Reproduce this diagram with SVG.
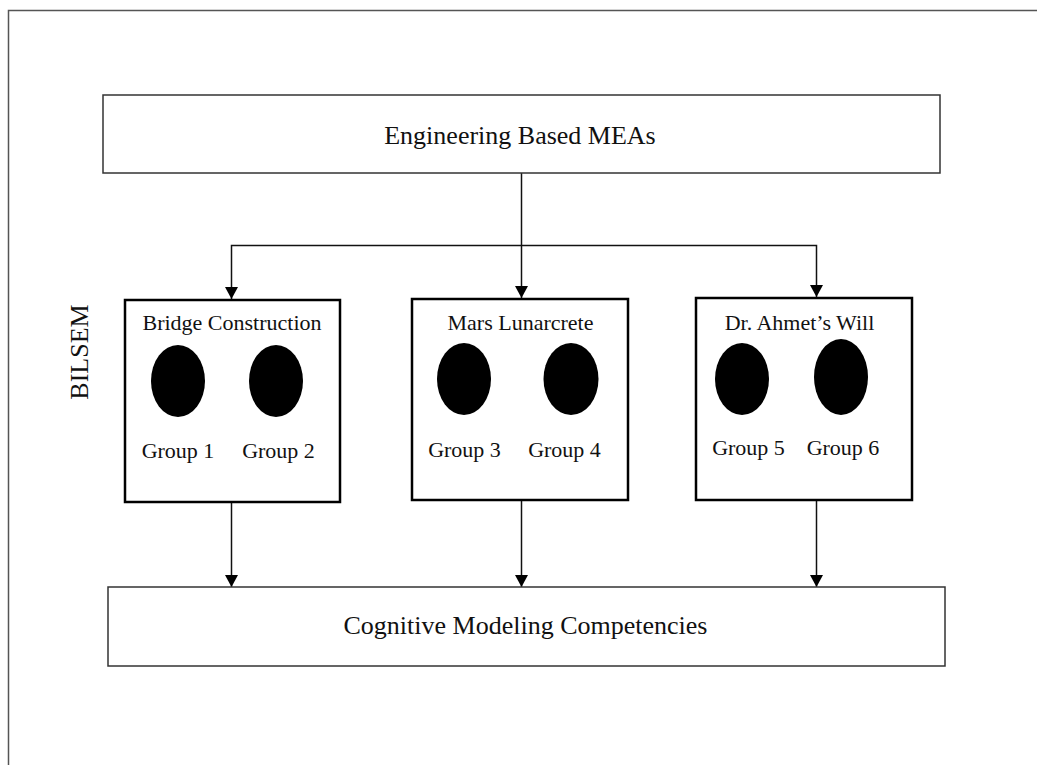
<svg xmlns="http://www.w3.org/2000/svg" width="1037" height="765" viewBox="0 0 1037 765">
  <style>
    .lbl { font-family: "Liberation Serif", "Times New Roman", serif; fill: #111; text-anchor: middle; }
    .big { font-size: 26px; }
    .sm { font-size: 22px; }
    .wide { fill: #fff; stroke: #333; stroke-width: 1.5; }
    .task { fill: #fff; stroke: #000; stroke-width: 2.5; }
    .team { fill: #000; }
    .wire { fill: none; stroke: #111; stroke-width: 1.5; }
  </style>
  <defs>
    <!-- filled triangular head pointing along the path direction -->
    <marker id="arrow" viewBox="0 0 12 13" refX="12" refY="6.5" markerWidth="12" markerHeight="13" markerUnits="userSpaceOnUse" orient="auto">
      <path d="M0,0 L12,6.5 L0,13 Z" fill="#000"/>
    </marker>
  </defs>

  <rect width="1037" height="765" fill="#fff"/>
  <!-- page frame -->
  <path d="M8.5,765 L8.5,10.5 L1037,10.5" fill="none" stroke="#555" stroke-width="1.5"/>

  <!-- side label -->
  <text class="lbl big" transform="translate(88,352) rotate(-90)" x="0" y="0">BILSEM</text>

  <g id="connectors">
    <path class="wire" d="M521.5,173 L521.5,298" marker-end="url(#arrow)"/>
    <path class="wire" d="M521.5,245.5 L231.5,245.5 L231.5,299" marker-end="url(#arrow)"/>
    <path class="wire" d="M521.5,245.5 L816.5,245.5 L816.5,297" marker-end="url(#arrow)"/>
    <path class="wire" d="M231.5,502 L231.5,587" marker-end="url(#arrow)"/>
    <path class="wire" d="M521.5,501 L521.5,587" marker-end="url(#arrow)"/>
    <path class="wire" d="M816.5,501 L816.5,587" marker-end="url(#arrow)"/>
  </g>

  <g id="meas">
    <rect class="wide" x="103" y="95" width="837" height="78"/>
    <text class="lbl big" x="520" y="144">Engineering Based MEAs</text>
  </g>

  <g id="bridge">
    <rect class="task" x="125" y="300" width="215" height="202"/>
    <text class="lbl sm" x="232" y="330">Bridge Construction</text>
    <ellipse class="team" cx="178" cy="381" rx="27" ry="36"/>
    <ellipse class="team" cx="276" cy="381" rx="27" ry="36"/>
    <text class="lbl sm" x="178" y="458">Group 1</text>
    <text class="lbl sm" x="278.5" y="458">Group 2</text>
  </g>

  <g id="mars">
    <rect class="task" x="412" y="299" width="216" height="201"/>
    <text class="lbl sm" x="520.5" y="330">Mars Lunarcrete</text>
    <ellipse class="team" cx="464" cy="379" rx="27" ry="36"/>
    <ellipse class="team" cx="571" cy="379" rx="27.5" ry="36"/>
    <text class="lbl sm" x="464.5" y="457">Group 3</text>
    <text class="lbl sm" x="564.5" y="457">Group 4</text>
  </g>

  <g id="will">
    <rect class="task" x="696" y="298" width="216" height="202"/>
    <text class="lbl sm" x="799.5" y="330">Dr. Ahmet’s Will</text>
    <ellipse class="team" cx="742" cy="379" rx="27" ry="36"/>
    <ellipse class="team" cx="841" cy="377" rx="27" ry="38"/>
    <text class="lbl sm" x="748.5" y="455">Group 5</text>
    <text class="lbl sm" x="843" y="455">Group 6</text>
  </g>

  <g id="competencies">
    <rect class="wide" x="108" y="587" width="837" height="79"/>
    <text class="lbl big" x="525.5" y="634">Cognitive Modeling Competencies</text>
  </g>
</svg>
